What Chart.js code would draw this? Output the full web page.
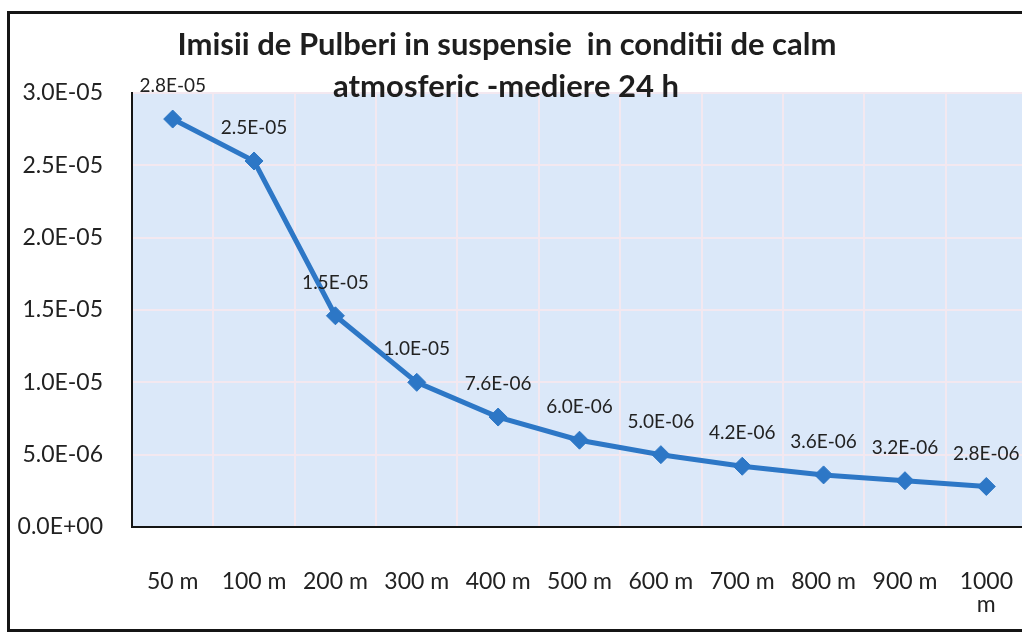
<!DOCTYPE html>
<html>
<head>
<meta charset="utf-8">
<title>Imisii de Pulberi in suspensie</title>
<script src="https://cdn.jsdelivr.net/npm/chart.js@4.4.0/dist/chart.umd.min.js"></script>
<style>
    html, body { margin: 0; padding: 0; background: #fff; overflow: hidden; }
    #wrap { position: relative; width: 1022px; height: 632px; overflow: hidden; }
    #frame { position: absolute; left: 7px; top: 11px; width: 1200px; height: 615px; border: 3px solid #151515; border-right: none; pointer-events: none; }
    canvas { position: absolute; left: 0; top: 0; }
</style>
</head>
<body>
<div id="wrap">
    <!-- wider than the window: the plot runs off the right edge as in the scan
         (Chart.js keeps pointRadius + border = 10px free on the right) -->
    <canvas id="chart" width="1037" height="632"></canvas>
    <div id="frame"></div>
</div>
<script>
const categories = ["50 m", "100 m", "200 m", "300 m", "400 m", "500 m", "600 m", "700 m", "800 m", "900 m", "1000 m"];
const concentrations = [2.82e-5, 2.53e-5, 1.46e-5, 1.0e-5, 7.6e-6, 6.0e-6, 5.0e-6, 4.2e-6, 3.6e-6, 3.2e-6, 2.8e-6];
const yTicks = [0, 5e-6, 1e-5, 1.5e-5, 2e-5, 2.5e-5, 3e-5];
const titleLines = ["Imisii de Pulberi in suspensie  in conditii de calm", "atmosferic -mediere 24 h"];

const lineColor = "#2d77c6";
const textColor = "#222";

// 2.8e-5 -> "2.8E-05", like Excel's 0.0E+00 format
function sci(v) {
    const [m, e] = v.toExponential(1).split("e");
    const n = parseInt(e, 10);
    return m + "E" + (n < 0 ? "-" : "+") + String(Math.abs(n)).padStart(2, "0");
}

const plotBackground = {
    id: "plotBackground",
    beforeDraw(chart) {
        const { ctx, chartArea: a } = chart;
        ctx.save();
        ctx.fillStyle = "#dbe8f9";
        ctx.fillRect(a.left, a.top, a.right - a.left, a.bottom - a.top);
        ctx.restore();
    }
};

const pointLabels = {
    id: "pointLabels",
    afterDatasetsDraw(chart) {
        const ctx = chart.ctx;
        const meta = chart.getDatasetMeta(0);
        ctx.save();
        ctx.font = "19px Lato";
        ctx.fillStyle = textColor;
        ctx.textAlign = "center";
        ctx.textBaseline = "middle";
        meta.data.forEach((pt, i) => ctx.fillText(sci(concentrations[i]), pt.x, pt.y - 33));
        ctx.restore();
    }
};

const twoLineTitle = {
    id: "twoLineTitle",
    afterDraw(chart) {
        const ctx = chart.ctx;
        ctx.save();
        ctx.font = "bold 31px Lato";
        ctx.fillStyle = "#1e1e1e";
        ctx.textAlign = "center";
        ctx.textBaseline = "middle";
        ctx.fillText(titleLines[0], 507, 45);
        ctx.fillText(titleLines[1], 506, 87);
        ctx.restore();
    }
};

function drawChart() {
    const ctx = document.getElementById("chart").getContext("2d");
    new Chart(ctx, {
        type: "line",
        data: {
            labels: categories,
            datasets: [{
                data: concentrations,
                borderColor: lineColor,
                backgroundColor: lineColor,
                borderWidth: 5,
                pointStyle: "rectRot",
                pointRadius: 9,
                pointBorderWidth: 1,
                tension: 0,
                clip: false
            }]
        },
        options: {
            responsive: false,
            animation: false,
            layout: { padding: { top: 93, right: 0, bottom: 0, left: 0 } },
            plugins: { legend: { display: false }, tooltip: { enabled: false } },
            scales: {
                x: {
                    offset: true,
                    grid: { offset: true, color: "#f3e8f0", lineWidth: 2, drawTicks: true, tickLength: 43, tickColor: "rgba(0,0,0,0)" },
                    border: { color: "#151515", width: 2 },
                    ticks: {
                        padding: 0,
                        color: textColor,
                        maxRotation: 0,
                        autoSkip: false,
                        font: { family: "Lato", size: 23, lineHeight: 1 },
                        callback(value) {
                            const label = this.getLabelForValue(value);
                            return label.length > 5 ? label.split(" ") : label;
                        }
                    },
                    afterFit(scale) { scale.height = 105; }
                },
                y: {
                    min: 0,
                    max: 3e-5,
                    afterBuildTicks(scale) { scale.ticks = yTicks.map(v => ({ value: v })); },
                    grid: { color: "#f3e8f0", lineWidth: 2, drawTicks: false },
                    border: { color: "#151515", width: 2 },
                    ticks: {
                        padding: 29,
                        color: textColor,
                        font: { family: "Lato", size: 23 },
                        callback: v => sci(v)
                    },
                    afterFit(scale) { scale.width = 132; }
                }
            }
        },
        plugins: [plotBackground, pointLabels, twoLineTitle]
    });
}

Promise.all([document.fonts.load("23px Lato"), document.fonts.load("bold 31px Lato")])
    .catch(() => {})
    .then(drawChart);
</script>
</body>
</html>
